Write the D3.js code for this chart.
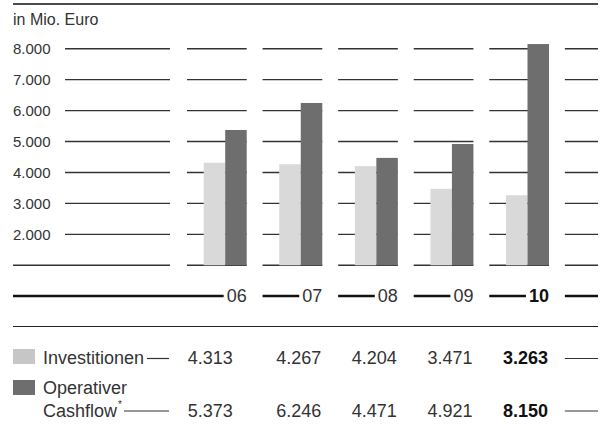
<!DOCTYPE html>
<html>
<head>
<meta charset="utf-8">
<script src="https://cdn.jsdelivr.net/npm/d3@7"></script>
<style>
  body { margin: 0; background: #fff; }
  svg { display: block; font-family: "Liberation Sans", Arial, sans-serif; }
  .txt { fill: #333; }
</style>
</head>
<body>
<svg id="chart" width="602" height="437"></svg>
<script>
const years = ["06", "07", "08", "09", "10"];
const investitionen = [4313, 4267, 4204, 3471, 3263];
const cashflow = [5373, 6246, 4471, 4921, 8150];
const gridValues = [1000, 2000, 3000, 4000, 5000, 6000, 7000, 8000];
const tickLabels = ["2.000", "3.000", "4.000", "5.000", "6.000", "7.000", "8.000"];
const seriesNames = ["Investitionen", "Operativer Cashflow"];
const seriesColors = ["#d9d9d9", "#6e6e6e"];
const legendColors = ["#c6c6c6", "#6e6e6e"];
const unitLabel = "in Mio. Euro";

const svg = d3.select("#chart");
const left = 13, right = 598;
const fmt = (v) => d3.format(",")(v).replace(/,/g, ".");

const x = d3.scaleBand().domain(years).range([187, 549]).paddingInner(0.21).paddingOuter(0);
const bw = x.bandwidth();
const step = x.step();
const x1 = d3.scaleBand().domain(seriesNames).range([bw - 43, bw]);
const y = d3.scaleLinear().domain([1000, 8000]).range([265.3, 48.7]);

// top rule
svg.append("line").attr("x1", left).attr("x2", right).attr("y1", 4).attr("y2", 4)
  .attr("stroke", "#111").attr("stroke-width", 1.5);

svg.append("text").attr("class", "txt").attr("x", left).attr("y", 25)
  .attr("font-size", 16).text(unitLabel);

// gridline segments: label column, one per year, and a trailing one
const cells = [{ x0: 65, x1: 170 }]
  .concat(years.map((yr) => ({ x0: x(yr), x1: x(yr) + bw })))
  .concat([{ x0: x(years[years.length - 1]) + step, x1: right }]);

const grid = svg.append("g");
gridValues.forEach((v) => {
  grid.selectAll(null).data(cells).enter().append("line")
    .attr("x1", (c, i) => (i === 0 && v === 1000 ? left : c.x0))
    .attr("x2", (c) => c.x1)
    .attr("y1", y(v)).attr("y2", y(v))
    .attr("stroke", "#333").attr("stroke-width", 1.4);
});

svg.append("g").selectAll("text").data(tickLabels).enter().append("text")
  .attr("class", "txt").attr("x", left).attr("y", (d, i) => y(gridValues[i + 1]))
  .attr("dy", "0.36em").attr("font-size", 15).text((d) => d);

// bars
const seriesData = [investitionen, cashflow];
const bars = svg.append("g");
seriesData.forEach((vals, s) => {
  bars.selectAll(null).data(vals).enter().append("rect")
    .attr("x", (d, i) => x(years[i]) + x1(seriesNames[s]))
    .attr("width", x1.bandwidth())
    .attr("y", (d) => y(d))
    .attr("height", (d) => y(1000) - y(d))
    .attr("fill", seriesColors[s]);
});

// year axis row
const axisY = 296;
const axis = svg.append("g");
years.forEach((yr, i) => {
  const last = i === years.length - 1;
  const t = axis.append("text").attr("class", "txt")
    .attr("x", x(yr) + bw).attr("y", axisY).attr("dy", "0.36em")
    .attr("text-anchor", "end").attr("font-size", 18)
    .attr("font-weight", last ? "bold" : "normal")
    .style("fill", last ? "#111" : "#333")
    .text(yr);
  const tw = t.node().getComputedTextLength();
  axis.append("line")
    .attr("x1", i === 0 ? left : x(yr)).attr("x2", x(yr) + bw - tw - 3)
    .attr("y1", axisY).attr("y2", axisY)
    .attr("stroke", "#111").attr("stroke-width", 2.6);
});
axis.append("line").attr("x1", x(years[years.length - 1]) + step).attr("x2", right)
  .attr("y1", axisY).attr("y2", axisY).attr("stroke", "#111").attr("stroke-width", 2.6);

svg.append("line").attr("x1", left).attr("x2", right).attr("y1", 326.5).attr("y2", 326.5)
  .attr("stroke", "#222").attr("stroke-width", 1.2);

// table rows
const rows = [
  { lines: ["Investitionen"], baseline: 364, dashFrom: 147, dashY: 358.5, boxY: 349 },
  { lines: ["Operativer", "Cashflow"], baseline: 417, dashFrom: 124, dashY: 411, boxY: 380 },
];
const valueX = (i) => x(years[i]) + bw - (i === 0 ? 14 : 1);
const table = svg.append("g");
rows.forEach((r, s) => {
  table.append("rect").attr("x", left).attr("y", r.boxY).attr("width", 22).attr("height", 15)
    .attr("fill", legendColors[s]);
  const lbl = table.append("text").attr("class", "txt").attr("font-size", 18);
  r.lines.forEach((ln, k) => {
    lbl.append("tspan").attr("x", 43)
      .attr("y", r.baseline - (r.lines.length - 1 - k) * 23).text(ln);
  });
  if (s === 1) {
    lbl.append("tspan").attr("font-size", 10).attr("dy", -9).attr("dx", 1).text("*");
  }
  table.append("line").attr("x1", r.dashFrom).attr("x2", 169)
    .attr("y1", r.dashY).attr("y2", r.dashY).attr("stroke", "#333").attr("stroke-width", 1.2);
  table.selectAll(null).data(seriesData[s]).enter().append("text")
    .attr("class", "txt")
    .attr("x", (d, i) => valueX(i)).attr("y", r.baseline)
    .attr("text-anchor", "end").attr("font-size", 18)
    .attr("font-weight", (d, i) => (i === years.length - 1 ? "bold" : "normal"))
    .style("fill", (d, i) => (i === years.length - 1 ? "#111" : "#333"))
    .text((d) => fmt(d));
  table.append("line").attr("x1", x(years[years.length - 1]) + step).attr("x2", right)
    .attr("y1", r.dashY).attr("y2", r.dashY).attr("stroke", "#333").attr("stroke-width", 1.2);
});
</script>
</body>
</html>
